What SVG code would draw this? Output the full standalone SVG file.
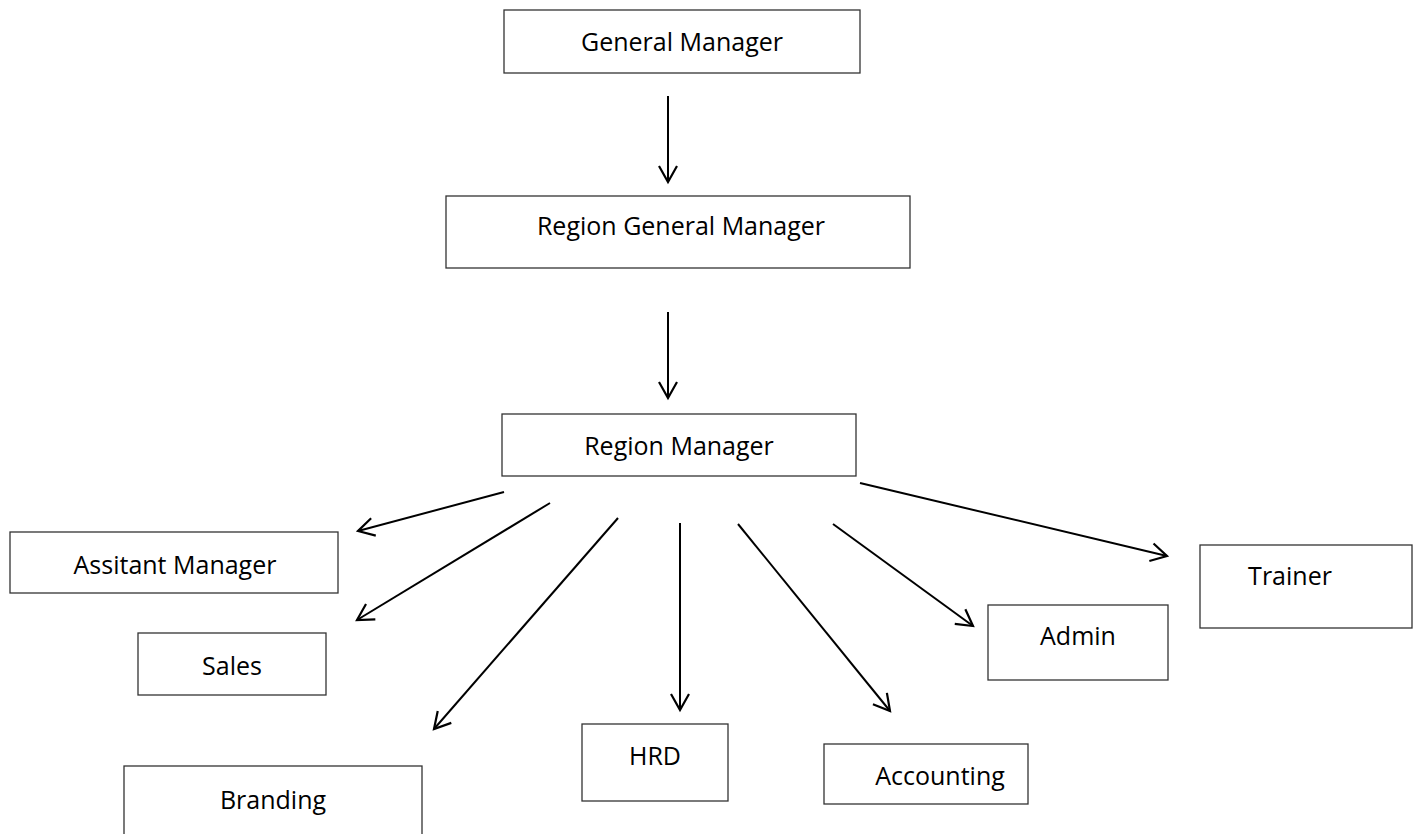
<svg xmlns="http://www.w3.org/2000/svg" width="1419" height="834" viewBox="0 0 1419 834">
<style>
.box{fill:#fff;stroke:#333;stroke-width:1.3}
.lbl{font-family:"Open Sans","Liberation Sans",sans-serif;font-size:25px;fill:#000;text-anchor:middle}
.con{stroke:#000;stroke-width:2;fill:none;marker-end:url(#ah)}
</style>
<defs>
<marker id="ah" markerUnits="userSpaceOnUse" markerWidth="34" markerHeight="34" refX="17" refY="17" orient="auto" viewBox="0 0 34 34">
<path d="M1 8 L17 17 L1 26" fill="none" stroke="#000" stroke-width="2.2"/>
</marker>
</defs>
<rect width="1419" height="834" fill="#fff"/>
<g id="n-gm"><rect class="box" x="504" y="10" width="356" height="63"/><text class="lbl" x="682" y="51">General Manager</text></g>
<g id="n-rgm"><rect class="box" x="446" y="196" width="464" height="72"/><text class="lbl" x="681" y="235">Region General Manager</text></g>
<g id="n-rm"><rect class="box" x="502" y="414" width="354" height="62"/><text class="lbl" x="679" y="455">Region Manager</text></g>
<g id="n-am"><rect class="box" x="10" y="532" width="328" height="61"/><text class="lbl" x="175" y="574">Assitant Manager</text></g>
<g id="n-sales"><rect class="box" x="138" y="633" width="188" height="62"/><text class="lbl" x="232" y="675">Sales</text></g>
<g id="n-branding"><rect class="box" x="124" y="766" width="298" height="80"/><text class="lbl" x="273" y="809">Branding</text></g>
<g id="n-hrd"><rect class="box" x="582" y="724" width="146" height="77"/><text class="lbl" x="655" y="765">HRD</text></g>
<g id="n-acc"><rect class="box" x="824" y="744" width="204" height="60"/><text class="lbl" x="940" y="785">Accounting</text></g>
<g id="n-admin"><rect class="box" x="988" y="605" width="180" height="75"/><text class="lbl" x="1078" y="645">Admin</text></g>
<g id="n-trainer"><rect class="box" x="1200" y="545" width="212" height="83"/><text class="lbl" x="1290" y="585">Trainer</text></g>
<g id="connectors">
<line class="con" x1="668" y1="96" x2="668" y2="182"/>
<line class="con" x1="668" y1="312" x2="668" y2="398"/>
<line class="con" x1="504" y1="492" x2="358" y2="531"/>
<line class="con" x1="550" y1="503" x2="357" y2="620"/>
<line class="con" x1="618" y1="518" x2="434" y2="729"/>
<line class="con" x1="680" y1="523" x2="680" y2="710"/>
<line class="con" x1="738" y1="524" x2="890" y2="711"/>
<line class="con" x1="833" y1="524" x2="973" y2="626"/>
<line class="con" x1="860" y1="483" x2="1167" y2="556"/>
</g>
</svg>
